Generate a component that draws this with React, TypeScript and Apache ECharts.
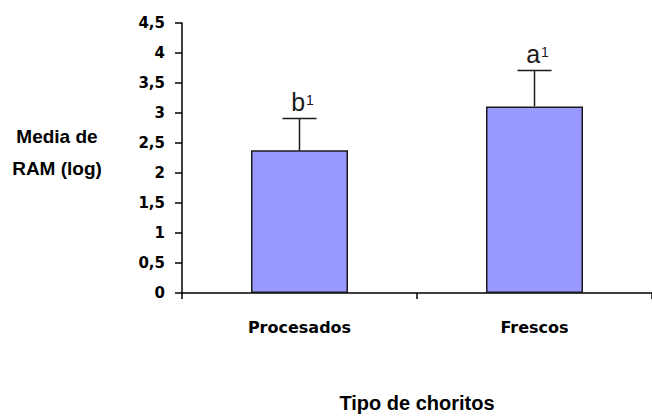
import React, { useEffect, useRef } from "react";
import * as echarts from "echarts";

const categories = ["Procesados", "Frescos"];
const means = [2.38, 3.11];
const errors = [0.53, 0.6];
const letters = ["b", "a"];
const yTicks = { min: 0, max: 4.5, interval: 0.5 };

export default function App() {
  const ref = useRef<HTMLDivElement>(null);
  useEffect(() => {
    if (!ref.current) return;
    document.body.style.margin = "0";
    const chart = echarts.init(ref.current, null, { renderer: "svg" });
    const errData = categories.map((_, i) => [i, means[i], means[i] + errors[i]]);
    chart.setOption({
      animation: false,
      backgroundColor: "#ffffff",
      grid: { left: 182, top: 23, width: 472, height: 272, containLabel: false },
      xAxis: {
        type: "category",
        data: categories,
        axisLine: { show: true, lineStyle: { color: "#000", width: 1.5 } },
        axisTick: { show: true, alignWithLabel: false, length: 6, lineStyle: { color: "#000", width: 1.5 } },
        axisLabel: {
          color: "#000",
          fontFamily: "DejaVu Sans",
          fontWeight: "bold",
          fontSize: 16,
          margin: 26,
        },
        name: "Tipo de choritos",
        nameLocation: "middle",
        nameGap: 100,
        nameTextStyle: {
          color: "#000",
          fontFamily: "Liberation Sans",
          fontWeight: "bold",
          fontSize: 20,
          verticalAlign: "top",
        },
      },
      yAxis: {
        type: "value",
        min: yTicks.min,
        max: yTicks.max,
        interval: yTicks.interval,
        splitLine: { show: false },
        axisLine: { show: true, lineStyle: { color: "#000", width: 1.5 } },
        axisTick: { show: true, length: 7, lineStyle: { color: "#000", width: 1.5 } },
        axisLabel: {
          color: "#000",
          fontFamily: "DejaVu Sans",
          fontWeight: "bold",
          fontSize: 15,
          margin: 17,
          formatter: (v: number) => String(v).replace(".", ","),
        },
      },
      graphic: [
        {
          type: "text",
          x: 57,
          y: 152,
          style: {
            text: "Media de\nRAM (log)",
            fill: "#000",
            fontFamily: "Liberation Sans",
            fontWeight: "bold",
            fontSize: 19,
            lineHeight: 32,
            align: "center",
            verticalAlign: "middle",
          },
        },
      ],
      series: [
        {
          type: "bar",
          data: means,
          barWidth: 97,
          itemStyle: { color: "#9999ff", borderColor: "#1a1a1a", borderWidth: 1.5 },
        },
        {
          type: "custom",
          data: errData,
          z: 5,
          renderItem: (params: any, api: any) => {
            const x = api.value(0);
            const base = api.coord([x, api.value(1)]);
            const hi = api.coord([x, api.value(2)]);
            const half = 17;
            const letter = letters[params.dataIndex];
            const st = { stroke: "#1a1a1a", lineWidth: 1.5 };
            return {
              type: "group",
              children: [
                { type: "line", shape: { x1: base[0], y1: base[1], x2: hi[0], y2: hi[1] }, style: st },
                { type: "line", shape: { x1: hi[0] - half, y1: hi[1], x2: hi[0] + half, y2: hi[1] }, style: st },
                {
                  type: "text",
                  x: hi[0] + 3,
                  y: hi[1] - 4,
                  style: {
                    text: `{l|${letter}}{s|1}`,
                    align: "center",
                    verticalAlign: "bottom",
                    rich: {
                      l: { fontFamily: "Liberation Sans", fontSize: 25, fill: "#1a1a1a", verticalAlign: "bottom", lineHeight: 26 },
                      s: { fontFamily: "Liberation Sans", fontSize: 14, fill: "#1a1a1a", verticalAlign: "bottom", lineHeight: 26, padding: [0, 0, 7, 1] },
                    },
                  },
                },
              ],
            };
          },
        },
      ],
    });
    return () => chart.dispose();
  }, []);
  return <div ref={ref} style={{ width: 652, height: 418 }} />;
}
